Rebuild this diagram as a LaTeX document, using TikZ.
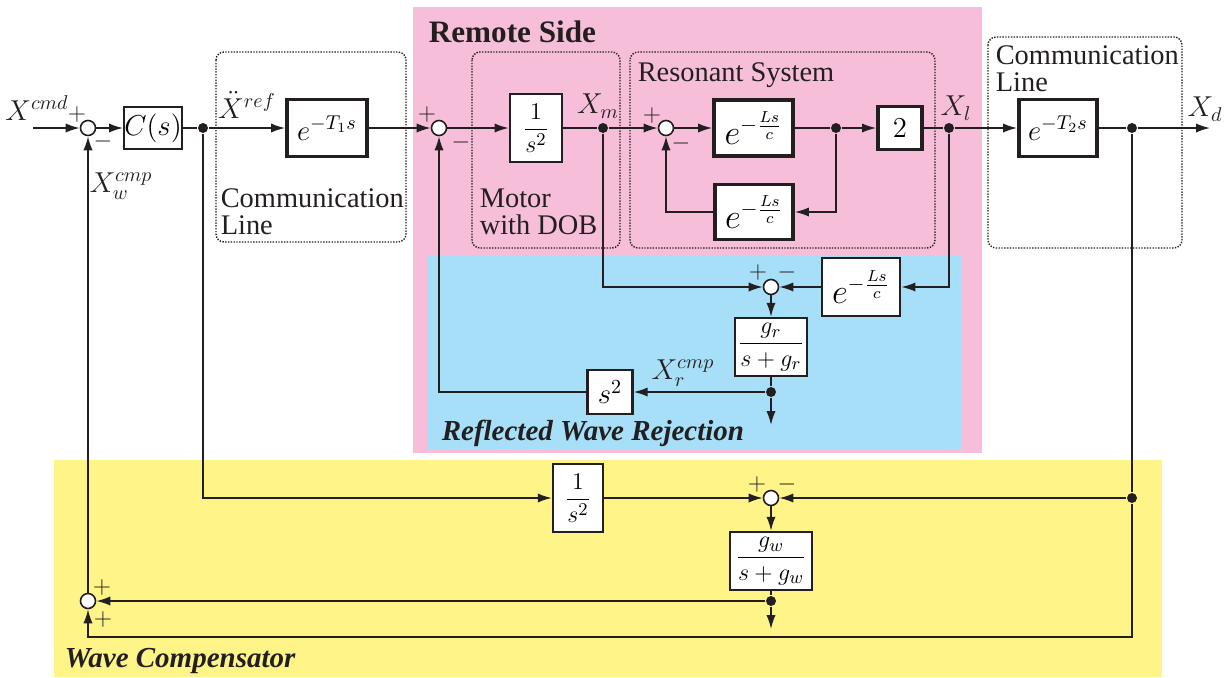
\documentclass[tikz,border=0pt]{standalone}
\usepackage[no-math]{fontspec}
\setmainfont{Liberation Serif}
\newfontfamily\tnr{Liberation Serif}
\usepackage{amsmath}
\usetikzlibrary{arrows.meta}
\definecolor{pinkbg}{RGB}{246,190,216}
\definecolor{bluebg}{RGB}{166,223,247}
\definecolor{yellowbg}{RGB}{255,244,136}
\definecolor{ink}{RGB}{35,31,32}
\begin{document}
\begin{tikzpicture}[x=0.5pt,y=-0.5pt,
  >={Latex[length=7pt,width=4.6pt]},
  line width=0.8pt,
  blk/.style={draw=ink, fill=white, line width=1.2pt, inner sep=0pt, font=\fontsize{14}{16}\selectfont},
  fblk/.style={blk, font=\fontsize{13}{15}\selectfont},
  eblk/.style={font=\fontsize{16}{18}\selectfont},
  tblk/.style={blk, line width=1.9pt},
  sumn/.style={circle, draw=ink, fill=white, line width=0.8pt, minimum size=7.5pt, inner sep=0pt},
  dotn/.style={circle, fill=ink, minimum size=5pt, inner sep=0pt},
  mlbl/.style={font=\fontsize{14}{16}\selectfont, inner sep=0pt, text=ink},
  sgn/.style={font=\fontsize{13}{13}\selectfont, inner sep=0pt, text=ink},
  txt/.style={font=\tnr\fontsize{14.2}{13.3}\selectfont, inner sep=0pt, align=left, text=ink},
  ttl/.style={font=\tnr\fontsize{15.6}{17}\selectfont\bfseries, inner sep=0pt, text=ink},
  ttli/.style={font=\tnr\fontsize{14.5}{17}\selectfont\bfseries\itshape, inner sep=0pt, text=ink},
  grp/.style={draw=ink, line width=0.7pt, dash pattern=on 0.7pt off 0.7pt, rounded corners=4pt},
  ln/.style={draw=ink, line width=0.8pt},
  conn/.style={ln, ->}]
\useasboundingbox (0,0) rectangle (1228,677);
% backgrounds
\fill[pinkbg] (413,7) rectangle (982,453);
\fill[bluebg] (427,255) rectangle (962,449);
\fill[yellowbg] (54,460) rectangle (1162,677);
% dotted groups
\draw[grp] (216,52) rectangle (406,242);
\draw[grp] (472,52) rectangle (620,248);
\draw[grp] (630,52) rectangle (935,248);
\draw[grp] (988,37) rectangle (1182,248);
% blocks
\node[blk, minimum width=27pt, minimum height=21pt] (C) at (153,128) {$C(s)$};
\node[tblk, minimum width=40pt, minimum height=28.5pt] (T1) at (327,128) {$e^{-T_1 s}$};
\node[fblk, line width=1.4pt, minimum width=26pt, minimum height=34pt] (M) at (536,128) {$\dfrac{1}{s^2}$};
\node[tblk, eblk, minimum width=39.5pt, minimum height=28pt] (E1) at (753.5,128) {$e^{-\frac{Ls}{c}}$};
\node[tblk, minimum width=22pt, minimum height=21.5pt] (two) at (900,128) {$2$};
\node[tblk, minimum width=39pt, minimum height=28.5pt] (T2) at (1058,128) {$e^{-T_2 s}$};
\node[tblk, eblk, minimum width=39pt, minimum height=27.5pt] (Efb) at (754,212) {$e^{-\frac{Ls}{c}}$};
\node[blk, eblk, line width=1.4pt, minimum width=39pt, minimum height=29pt] (Er) at (861,287) {$e^{-\frac{Ls}{c}}$};
\node[fblk, minimum width=36pt, minimum height=29pt] (gr) at (771,347) {$\dfrac{g_r}{s+g_r}$};
\node[blk, minimum width=22.5pt, minimum height=22pt] (sq) at (610,392) {$s^2$};
\node[fblk, minimum width=25pt, minimum height=34pt] (Y1) at (578,498) {$\dfrac{1}{s^2}$};
\node[fblk, minimum width=41pt, minimum height=29pt] (gw) at (771,561) {$\dfrac{g_w}{s+g_w}$};
% summing junctions
\node[sumn] (s1) at (88,128) {};
\node[sumn] (s2) at (439,128) {};
\node[sumn] (s3) at (666,128) {};
\node[sumn] (s4) at (771,287) {};
\node[sumn] (s5) at (771,498) {};
\node[sumn] (s6) at (88,601) {};
% branch dots
\node[dotn] (d1) at (203,128) {};
\node[dotn] (dxm) at (603,128) {};
\node[dotn] (d36) at (836,128) {};
\node[dotn] (dxl) at (949,128) {};
\node[dotn] (dxd) at (1132,128) {};
\node[dotn] (dgr) at (771,392) {};
\node[dotn] (dxd2) at (1132,498) {};
\node[dotn] (dgw) at (771,601) {};
% free ends
\coordinate (cin) at (33,128);
\coordinate (cout) at (1210,128);
\coordinate (cgr) at (771,425);
\coordinate (cgw) at (771,629);
\coordinate (cbot) at (1132,637);
% connectors
\draw[conn] (cin) -- (s1);
\draw[conn] (s1) -- (C);
\draw[ln] (C) -- (d1);
\draw[conn] (d1) -- (T1);
\draw[conn] (T1) -- (s2);
\draw[conn] (s2) -- (M);
\draw[ln] (M) -- (dxm);
\draw[conn] (dxm) -- (s3);
\draw[conn] (s3) -- (E1);
\draw[ln] (E1) -- (d36);
\draw[conn] (d36) -- (two);
\draw[ln] (two) -- (dxl);
\draw[conn] (dxl) -- (T2);
\draw[ln] (T2) -- (dxd);
\draw[conn] (dxd) -- (cout);
\draw[conn] (d36) |- (Efb);
\draw[conn] (Efb) -| (s3);
\draw[conn] (dxm) |- (s4);
\draw[conn] (dxl) |- (Er);
\draw[conn] (Er) -- (s4);
\draw[conn] (s4) -- (gr);
\draw[ln] (gr) -- (dgr);
\draw[conn] (dgr) -- (cgr);
\draw[conn] (dgr) -- (sq);
\draw[conn] (sq) -| (s2);
\draw[conn] (d1) |- (Y1);
\draw[conn] (Y1) -- (s5);
\draw[ln] (dxd) -- (dxd2);
\draw[conn] (dxd2) -- (s5);
\draw[conn] (dxd2) -- (cbot) -| (s6);
\draw[conn] (s5) -- (gw);
\draw[ln] (gw) -- (dgw);
\draw[conn] (dgw) -- (cgw);
\draw[conn] (dgw) -- (s6);
\draw[conn] (s6) -- (s1);
% signal labels
\node[mlbl] (lcmd) at (37,108) {$X^{cmd}$};
\node[mlbl] (lref) at (247,105) {$\ddot{X}^{ref}$};
\node[mlbl] (lwcmp) at (121,186) {$X_w^{cmp}$};
\node[mlbl] (lxm) at (598,106) {$X_m$};
\node[mlbl] (lxl) at (956,108) {$X_l$};
\node[mlbl] (lxd) at (1205,109) {$X_d$};
\node[mlbl] (lrcmp) at (683,373) {$X_r^{cmp}$};
% signs
\node[sgn] (p1) at (77,114) {$+$};
\node[sgn] (m1) at (103,141) {$-$};
\node[sgn] (p2) at (427,114) {$+$};
\node[sgn] (m2) at (461,142) {$-$};
\node[sgn] (p3) at (652,115) {$+$};
\node[sgn] (m3) at (681,143) {$-$};
\node[sgn] (p4) at (758,272) {$+$};
\node[sgn] (m4) at (787,272) {$-$};
\node[sgn] (p5) at (757,484) {$+$};
\node[sgn] (m5) at (787,484) {$-$};
\node[sgn] (p6) at (102,587) {$+$};
\node[sgn] (p7) at (103,619) {$+$};
% texts
\node[txt, anchor=north west] (tcl1) at (220,188) {Communication\\Line};
\node[txt, anchor=north west] (tmot) at (479,188) {Motor\\with DOB};
\node[txt, anchor=base west] (tres) at (637,81) {Resonant System};
\node[txt, anchor=north west] (tcl2) at (995,45) {Communication\\Line};
\node[ttl, anchor=base west] (trs) at (428,42) {Remote Side};
\node[ttli, anchor=base west] (trwr) at (441,440) {Reflected Wave Rejection};
\node[ttli, anchor=base west] (twc) at (64,667) {Wave Compensator};
\end{tikzpicture}
\end{document}
